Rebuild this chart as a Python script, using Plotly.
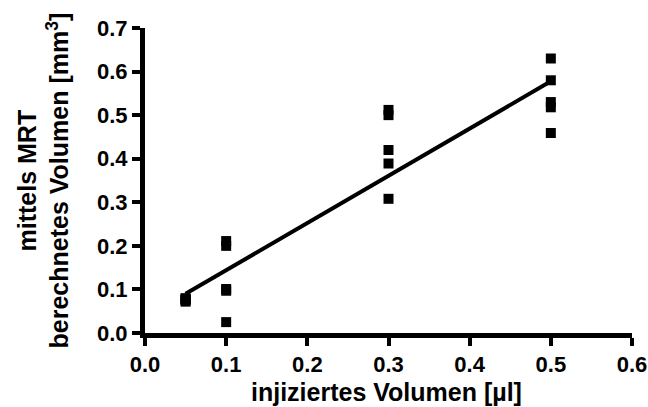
import numpy as np
import plotly.graph_objects as go

# data
x_vals = [0.05, 0.05, 0.05, 0.05, 0.05,
          0.1, 0.1, 0.1, 0.1, 0.1,
          0.3, 0.3, 0.3, 0.3, 0.3,
          0.5, 0.5, 0.5, 0.5, 0.5]
y_vals = [0.072, 0.075, 0.077, 0.078, 0.080,
          0.211, 0.200, 0.101, 0.097, 0.025,
          0.512, 0.500, 0.420, 0.389, 0.308,
          0.630, 0.580, 0.530, 0.518, 0.459]
x_ticks = [0.0, 0.1, 0.2, 0.3, 0.4, 0.5, 0.6]
y_ticks = [0.0, 0.1, 0.2, 0.3, 0.4, 0.5, 0.6, 0.7]
x_title = "injiziertes Volumen [µl]"
y_title_lines = ["mittels MRT", "berechnetes Volumen [mm<sup>3</sup>]"]

slope, intercept = np.polyfit(x_vals, y_vals, 1)
fit_x = [min(x_vals), max(x_vals)]
fit_y = [slope * v + intercept for v in fit_x]

FONT = "Liberation Sans"
W, H = 648, 407
L, R, T, B = 145, 16, 28, 74
PW, PH = W - L - R, H - T - B

fig = go.Figure()
fig.add_trace(go.Scatter(x=fit_x, y=fit_y, mode="lines",
                         line=dict(color="black", width=4), showlegend=False))
fig.add_trace(go.Scatter(x=x_vals, y=y_vals, mode="markers",
                         marker=dict(symbol="square", size=10, color="black"),
                         showlegend=False, cliponaxis=False))

axis_common = dict(showgrid=False, zeroline=False, showline=True, linecolor="black",
                   linewidth=5, ticks="outside", ticklen=8, tickwidth=4, tickcolor="black",
                   automargin=False,
                   tickfont=dict(family=FONT, size=22, color="black", weight="bold"))

title_font = dict(family=FONT, size=25, color="black", weight="bold")
annotations = [
    dict(text=x_title, xref="paper", yref="paper",
         x=(386 - L) / PW, y=-(392 - (H - B)) / PH,
         xanchor="center", yanchor="middle", showarrow=False, font=title_font),
]
for px, line in zip([26, 57], y_title_lines):
    annotations.append(dict(text=line, xref="paper", yref="paper",
                            x=-(L - px) / PW, y=0.5, textangle=-90,
                            xanchor="center", yanchor="middle", showarrow=False,
                            font=title_font))

fig.update_layout(
    template="none",
    width=W, height=H, autosize=False,
    margin=dict(l=L, r=R, t=T, b=B),
    paper_bgcolor="white", plot_bgcolor="white",
    font=dict(family=FONT, color="black"),
    xaxis=dict(range=[0, 0.6], tickvals=x_ticks,
               ticktext=[f"{v:.1f}" for v in x_ticks], **axis_common),
    yaxis=dict(range=[0, 0.7], tickvals=y_ticks,
               ticktext=[f"{v:.1f}" for v in y_ticks], **axis_common),
    annotations=annotations,
)
fig.write_html("out.html")
